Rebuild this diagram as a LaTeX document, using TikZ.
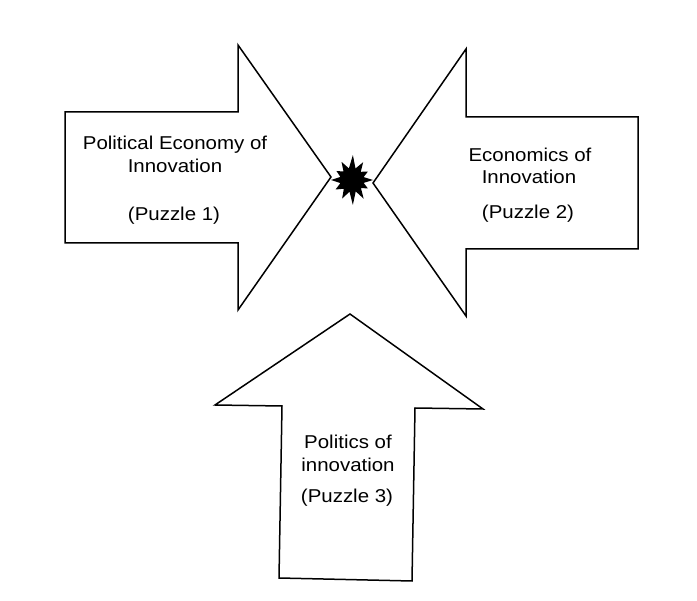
\documentclass[tikz,border=0pt]{standalone}
\usepackage{fontspec}
\setmainfont{Liberation Sans}[FakeStretch=1.1]
\begin{document}
\begin{tikzpicture}[x=1pt,y=-1pt,
  arrowshape/.style={draw=black, line width=1.5pt, fill=white, line join=miter},
  lbl/.style={font=\fontsize{18.6}{22}\selectfont, inner sep=0pt, anchor=base}]
\useasboundingbox[fill=white] (0,0) rectangle (697,601);
% left arrow
\draw[arrowshape] (65,112) -- (238,112) -- (238,45) -- (331,177) -- (238,310) -- (238,243) -- (65,243) -- cycle;
% right arrow
\draw[arrowshape] (638,117) -- (466,117) -- (466,49) -- (373,183) -- (466,316) -- (466,249) -- (638,249) -- cycle;
% bottom arrow
\draw[arrowshape] (350,314) -- (483,409) -- (415,408) -- (412,581) -- (279,578) -- (282,406) -- (215,405) -- cycle;
% starburst
\coordinate (burst) at (352,180);
\fill[black] (burst)
  +(0:21) -- +(14:12) -- +(28:18) -- +(42:12) -- +(58:22) -- +(72:12) -- +(88:25) -- +(102:12)
  -- +(118:21) -- +(133:12) -- +(150:19) -- +(165:12) -- +(180:21) -- +(195:12) -- +(210:18) -- +(225:12)
  -- +(240:21) -- +(255:12) -- +(272:25) -- +(287:12) -- +(302:21) -- +(317:12) -- +(332:18) -- +(346:12) -- cycle;
% labels
\node[lbl] (l1a) at (175,150) {Political Economy of};
\node[lbl] (l1b) at (175,173) {Innovation};
\node[lbl] (l1c) at (174,221) {(Puzzle 1)};
\node[lbl] (l2a) at (530,162) {Economics of};
\node[lbl] (l2b) at (529,184) {Innovation};
\node[lbl] (l2c) at (528,219) {(Puzzle 2)};
\node[lbl] (l3a) at (348,449) {Politics of};
\node[lbl] (l3b) at (348,472) {innovation};
\node[lbl] (l3c) at (347,503) {(Puzzle 3)};
\end{tikzpicture}
\end{document}
